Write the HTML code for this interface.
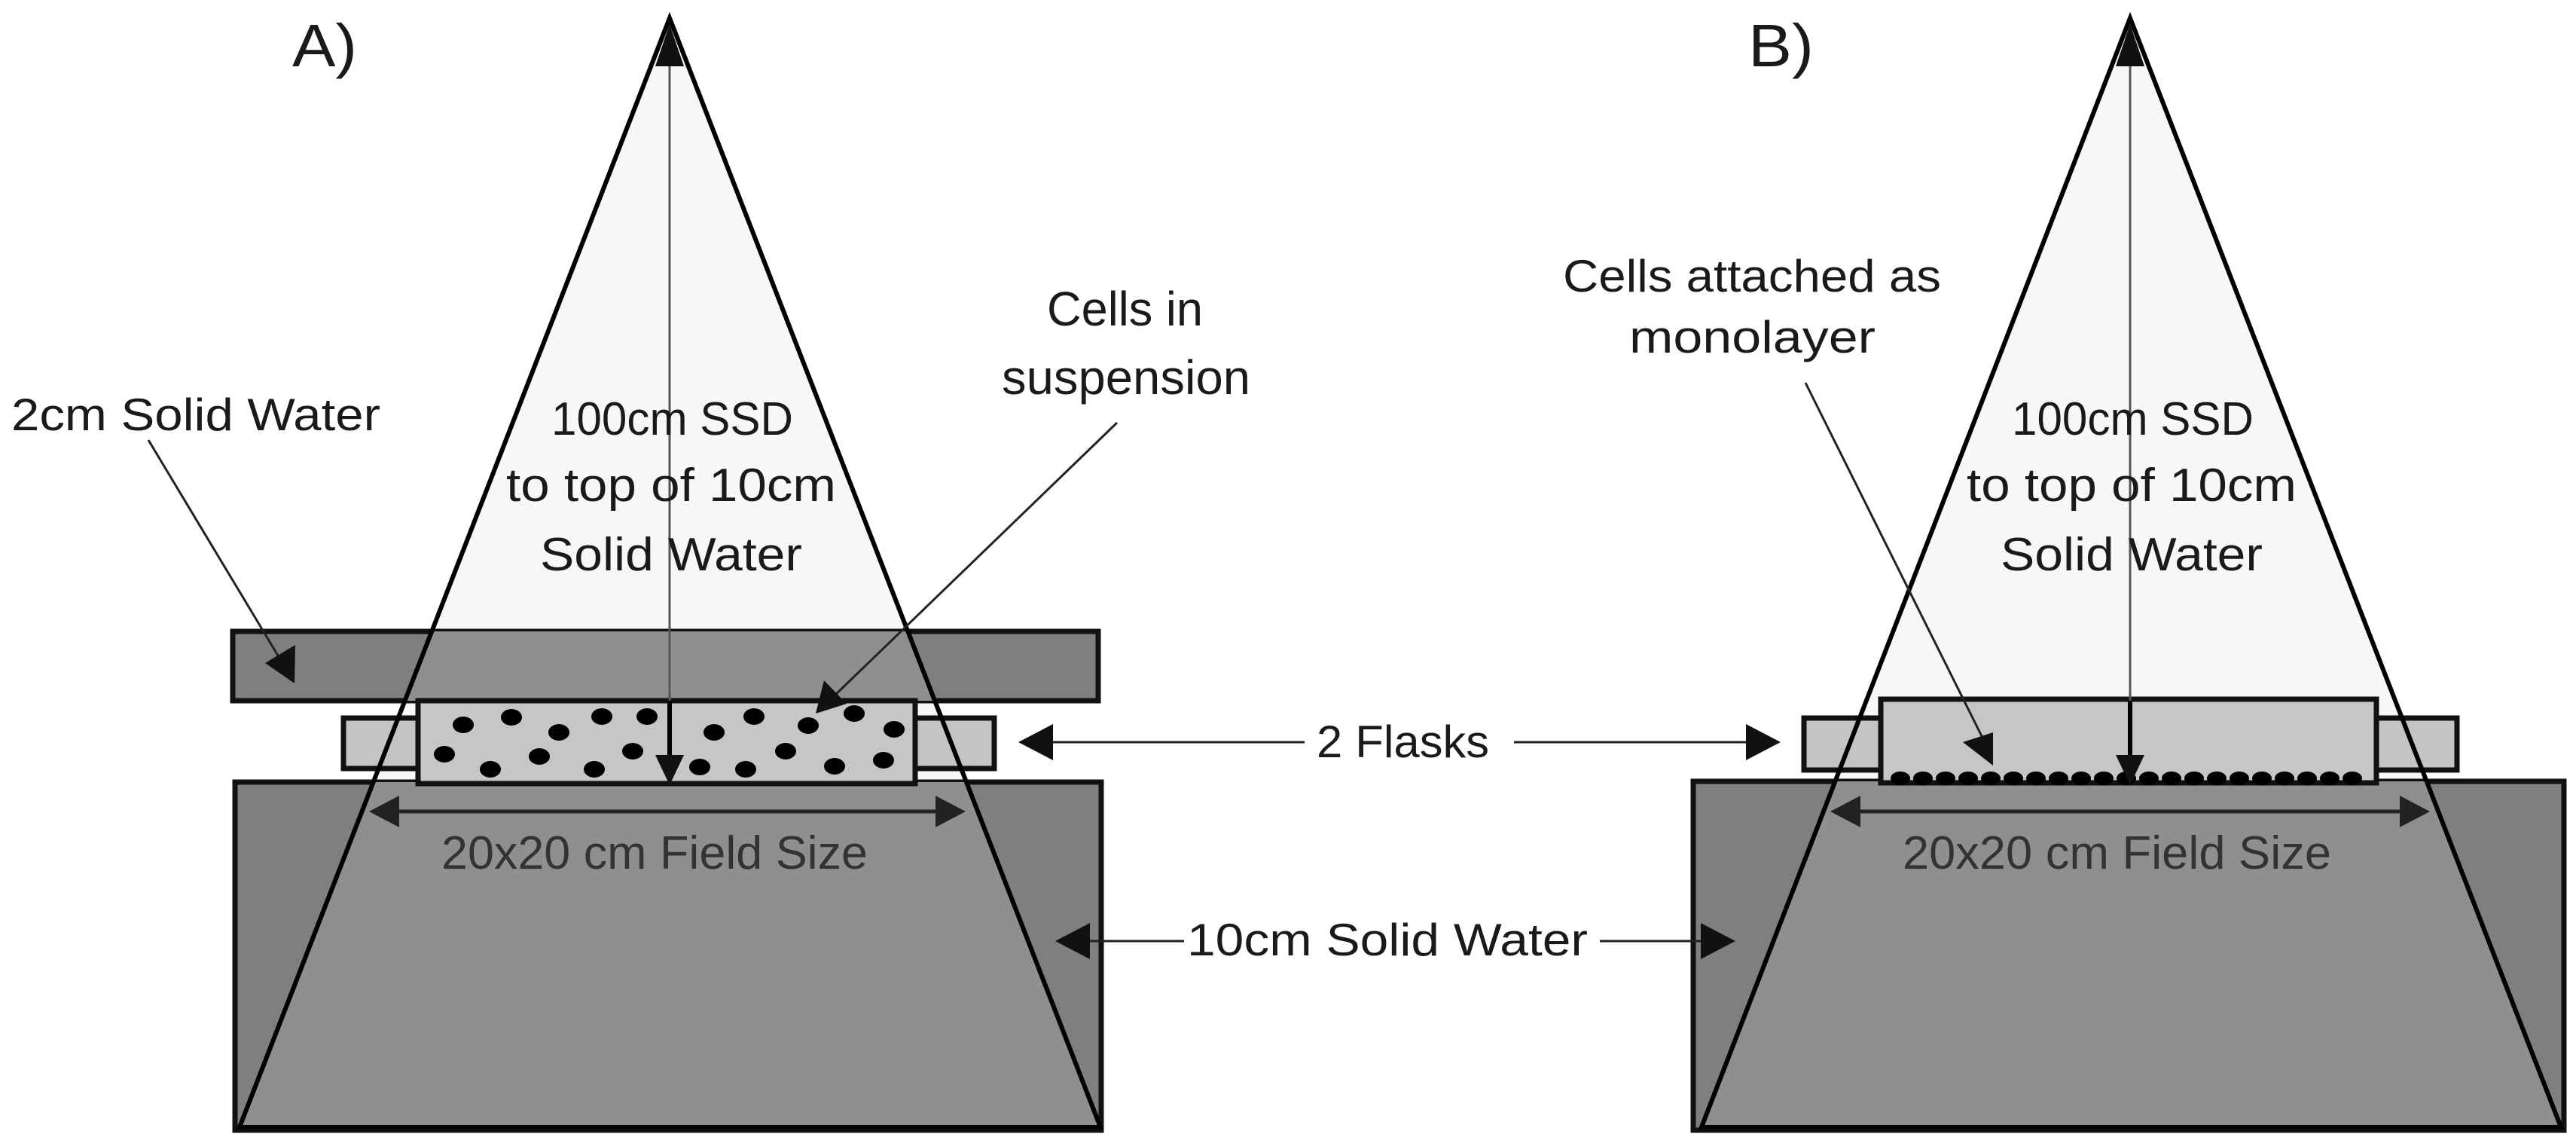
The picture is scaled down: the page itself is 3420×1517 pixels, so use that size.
<!DOCTYPE html>
<html><head><meta charset="utf-8"><style>html,body{margin:0;padding:0;background:#fff}svg{display:block}</style></head>
<body>
<svg xmlns="http://www.w3.org/2000/svg" width="3420" height="1517" viewBox="0 0 3420 1517" font-family="'Liberation Sans', sans-serif">
<defs>
<clipPath id="ca1"><rect x="312" y="1038" width="1150" height="462"/><rect x="309" y="838" width="1149" height="92"/></clipPath>
<clipPath id="cb1"><rect x="2248" y="1037" width="1156" height="463"/></clipPath>
</defs>
<rect width="3420" height="1517" fill="#fff"/>

<!-- ===== A ===== -->
<polygon points="889,24 318,1496 1461,1496" fill="#f7f7f7"/>
<rect x="312" y="1038" width="1150" height="462" fill="#7f7f7f" stroke="#111" stroke-width="7"/>
<rect x="309" y="838" width="1149" height="92" fill="#7f7f7f" stroke="#111" stroke-width="7"/>
<polygon points="889,24 318,1496 1461,1496" fill="#8f8f8f" clip-path="url(#ca1)"/>
<rect x="456" y="953" width="99" height="67" fill="#c4c4c4" stroke="#111" stroke-width="7"/>
<rect x="1215" y="953" width="105" height="67" fill="#c4c4c4" stroke="#111" stroke-width="7"/>
<rect x="555" y="930" width="660" height="110" fill="#c6c6c6" stroke="#111" stroke-width="7"/>
<g fill="#000">
<ellipse cx="615" cy="962" rx="14" ry="11"/><ellipse cx="679" cy="952" rx="14" ry="11"/>
<ellipse cx="799" cy="951" rx="14" ry="11"/><ellipse cx="859" cy="951" rx="14" ry="11"/>
<ellipse cx="742" cy="972" rx="14" ry="11"/><ellipse cx="590" cy="1001" rx="14" ry="11"/>
<ellipse cx="651" cy="1021" rx="14" ry="11"/><ellipse cx="716" cy="1004" rx="14" ry="11"/>
<ellipse cx="789" cy="1021" rx="14" ry="11"/><ellipse cx="840" cy="997" rx="14" ry="11"/>
<ellipse cx="929" cy="1018" rx="14" ry="11"/><ellipse cx="990" cy="1021" rx="14" ry="11"/>
<ellipse cx="948" cy="972" rx="14" ry="11"/><ellipse cx="1001" cy="951" rx="14" ry="11"/>
<ellipse cx="1073" cy="963" rx="14" ry="11"/><ellipse cx="1134" cy="947" rx="14" ry="11"/>
<ellipse cx="1187" cy="968" rx="14" ry="11"/><ellipse cx="1043" cy="997" rx="14" ry="11"/>
<ellipse cx="1108" cy="1017" rx="14" ry="11"/><ellipse cx="1173" cy="1009" rx="14" ry="11"/>
</g>
<polygon points="889,24 318,1496 1461,1496" fill="none" stroke="#000" stroke-width="6"/>
<line x1="889" y1="60" x2="889" y2="930" stroke="#555" stroke-width="3"/>
<line x1="889" y1="930" x2="889" y2="1010" stroke="#000" stroke-width="6"/>
<polygon points="889,1042 870,1002 908,1002" fill="#111"/>
<polygon points="889,32 870,88 908,88" fill="#111"/>
<line x1="520" y1="1077" x2="1252" y2="1077" stroke="#222" stroke-width="5"/>
<polygon points="490,1077 530,1056 530,1098" fill="#222"/>
<polygon points="1282,1077 1242,1056 1242,1098" fill="#222"/>
<line x1="197" y1="584" x2="372" y2="875" stroke="#222" stroke-width="3"/>
<polygon points="391,907 352,880 392,856" fill="#111"/>
<line x1="1483" y1="561" x2="1105" y2="926" stroke="#222" stroke-width="3"/>
<polygon points="1083,947 1094,903 1124,934" fill="#111"/>

<!-- ===== B ===== -->
<polygon points="2828,24 2259,1496 3400,1496" fill="#f7f7f7"/>
<rect x="2248" y="1037" width="1156" height="463" fill="#7f7f7f" stroke="#111" stroke-width="7"/>
<polygon points="2828,24 2259,1496 3400,1496" fill="#8f8f8f" clip-path="url(#cb1)"/>
<rect x="2395" y="953" width="102" height="69" fill="#c4c4c4" stroke="#111" stroke-width="7"/>
<rect x="3155" y="953" width="107" height="69" fill="#c4c4c4" stroke="#111" stroke-width="7"/>
<rect x="2497" y="928" width="658" height="111" fill="#c6c6c6" stroke="#111" stroke-width="7"/>
<g fill="#000">
<ellipse cx="2523" cy="1033" rx="13" ry="9"/><ellipse cx="2553" cy="1033" rx="13" ry="9"/><ellipse cx="2583" cy="1033" rx="13" ry="9"/><ellipse cx="2613" cy="1033" rx="13" ry="9"/><ellipse cx="2643" cy="1033" rx="13" ry="9"/><ellipse cx="2673" cy="1033" rx="13" ry="9"/><ellipse cx="2703" cy="1033" rx="13" ry="9"/><ellipse cx="2733" cy="1033" rx="13" ry="9"/><ellipse cx="2763" cy="1033" rx="13" ry="9"/><ellipse cx="2793" cy="1033" rx="13" ry="9"/><ellipse cx="2823" cy="1033" rx="13" ry="9"/><ellipse cx="2853" cy="1033" rx="13" ry="9"/><ellipse cx="2883" cy="1033" rx="13" ry="9"/><ellipse cx="2913" cy="1033" rx="13" ry="9"/><ellipse cx="2943" cy="1033" rx="13" ry="9"/><ellipse cx="2973" cy="1033" rx="13" ry="9"/><ellipse cx="3003" cy="1033" rx="13" ry="9"/><ellipse cx="3033" cy="1033" rx="13" ry="9"/><ellipse cx="3063" cy="1033" rx="13" ry="9"/><ellipse cx="3093" cy="1033" rx="13" ry="9"/><ellipse cx="3123" cy="1033" rx="13" ry="9"/>
</g>
<polygon points="2828,24 2259,1496 3400,1496" fill="none" stroke="#000" stroke-width="6"/>
<line x1="2828" y1="60" x2="2828" y2="930" stroke="#555" stroke-width="3"/>
<line x1="2828" y1="930" x2="2828" y2="1010" stroke="#000" stroke-width="6"/>
<polygon points="2828,1042 2809,1002 2847,1002" fill="#111"/>
<polygon points="2828,32 2809,88 2847,88" fill="#111"/>
<line x1="2460" y1="1077" x2="3196" y2="1077" stroke="#222" stroke-width="5"/>
<polygon points="2430,1077 2470,1056 2470,1098" fill="#222"/>
<polygon points="3226,1077 3186,1056 3186,1098" fill="#222"/>
<line x1="2397" y1="508" x2="2635" y2="985" stroke="#222" stroke-width="3"/>
<polygon points="2646,1016 2606,985 2646,972" fill="#111"/>

<!-- shared arrows -->
<line x1="1380" y1="985" x2="1732" y2="985" stroke="#222" stroke-width="3"/>
<polygon points="1352,985 1398,961 1398,1009" fill="#111"/>
<line x1="2010" y1="985" x2="2330" y2="985" stroke="#222" stroke-width="3"/>
<polygon points="2364,985 2318,961 2318,1009" fill="#111"/>
<line x1="1430" y1="1249" x2="1572" y2="1249" stroke="#222" stroke-width="3"/>
<polygon points="1401,1249 1447,1225 1447,1273" fill="#111"/>
<line x1="2124" y1="1249" x2="2275" y2="1249" stroke="#222" stroke-width="3"/>
<polygon points="2304,1249 2258,1225 2258,1273" fill="#111"/>

<!-- ===== Text ===== -->
<g fill="#1a1a1a">
<text x="388" y="88" font-size="80" textLength="86" lengthAdjust="spacingAndGlyphs">A)</text>
<text x="2321" y="88" font-size="80" textLength="87" lengthAdjust="spacingAndGlyphs">B)</text>
<text x="15" y="571" font-size="60" textLength="490" lengthAdjust="spacingAndGlyphs">2cm Solid Water</text>
<text x="732" y="577" font-size="62" textLength="321" lengthAdjust="spacingAndGlyphs">100cm SSD</text>
<text x="672" y="665" font-size="62" textLength="438" lengthAdjust="spacingAndGlyphs">to top of 10cm</text>
<text x="717" y="757" font-size="62" textLength="348" lengthAdjust="spacingAndGlyphs">Solid Water</text>
<text x="2671" y="577" font-size="62" textLength="321" lengthAdjust="spacingAndGlyphs">100cm SSD</text>
<text x="2611" y="665" font-size="62" textLength="438" lengthAdjust="spacingAndGlyphs">to top of 10cm</text>
<text x="2656" y="757" font-size="62" textLength="348" lengthAdjust="spacingAndGlyphs">Solid Water</text>
<text x="1390" y="432" font-size="64" textLength="207" lengthAdjust="spacingAndGlyphs">Cells in</text>
<text x="1330" y="523" font-size="64" textLength="330" lengthAdjust="spacingAndGlyphs">suspension</text>
<text x="2075" y="387" font-size="60" textLength="502" lengthAdjust="spacingAndGlyphs">Cells attached as</text>
<text x="2163" y="468" font-size="60" textLength="327" lengthAdjust="spacingAndGlyphs">monolayer</text>
<text x="1748" y="1005" font-size="60" textLength="229" lengthAdjust="spacingAndGlyphs">2 Flasks</text>
<text x="1576" y="1268" font-size="60" textLength="532" lengthAdjust="spacingAndGlyphs">10cm Solid Water</text>
</g>
<g fill="#333">
<text x="586" y="1153" font-size="62" textLength="566" lengthAdjust="spacingAndGlyphs">20x20 cm Field Size</text>
<text x="2526" y="1153" font-size="62" textLength="569" lengthAdjust="spacingAndGlyphs">20x20 cm Field Size</text>
</g>
</svg>
</body></html>
